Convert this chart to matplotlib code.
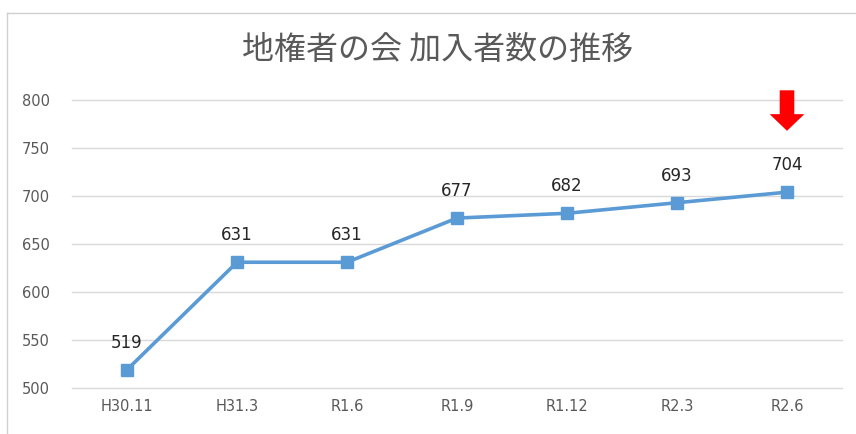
import matplotlib
matplotlib.use("Agg")
import matplotlib.pyplot as plt
from matplotlib.lines import Line2D

plt.rcParams['font.family'] = ['Noto Sans CJK JP', 'DejaVu Sans']

# data
periods = ["H30.11", "H31.3", "R1.6", "R1.9", "R1.12", "R2.3", "R2.6"]
members = [519, 631, 631, 677, 682, 693, 704]
y_ticks = [500, 550, 600, 650, 700, 750, 800]
title = "地権者の会 加入者数の推移"

fig = plt.figure(figsize=(8.56, 4.34), dpi=100)
ax = fig.add_axes([72 / 856, 1 - 388 / 434, 770 / 856, 288 / 434])

x = list(range(len(periods)))
ax.plot(x, members, color="#5B9BD5", lw=2.6, marker="s", markersize=9,
        markerfacecolor="#5B9BD5", markeredgecolor="#5B9BD5", zorder=3)

for xi, v in zip(x, members):
    ax.annotate(str(v), (xi, v), xytext=(0, 13), textcoords="offset points",
                ha="center", va="bottom", fontsize=12, color="#262626",
                family="DejaVu Sans")

ax.set_xlim(-0.5, len(periods) - 0.5)
ax.set_ylim(500, 800)
ax.set_yticks(y_ticks)
ax.set_xticks(x)
ax.set_xticklabels(periods)
ax.tick_params(length=0, labelsize=10.5, colors="#595959", pad=8)
ax.tick_params(axis="y", pad=16)
for lab in ax.get_xticklabels() + ax.get_yticklabels():
    lab.set_family("DejaVu Sans")
ax.grid(axis="y", color="#D9D9D9", lw=1)
for gl in ax.get_ygridlines():
    gl.set_clip_on(False)
ax.set_axisbelow(True)
for s in ax.spines.values():
    s.set_visible(False)

# red arrow above the latest value
ax.annotate("", xy=(6, 765), xytext=(6, 813),
            arrowprops=dict(arrowstyle="simple,head_width=2.5,head_length=1.2,tail_width=1.05",
                            color="#FF0000", lw=0),
            annotation_clip=False)

fig.text(438 / 856, 1 - 50 / 434, title, ha="center", va="center",
         fontsize=23, color="#595959")

# chart border
fig.add_artist(Line2D([7 / 856, 1], [1 - 13 / 434] * 2, color="#D0D0D0", lw=1))
fig.add_artist(Line2D([7 / 856] * 2, [0, 1 - 13 / 434], color="#D0D0D0", lw=1))

fig.savefig("out.png", dpi=100)
